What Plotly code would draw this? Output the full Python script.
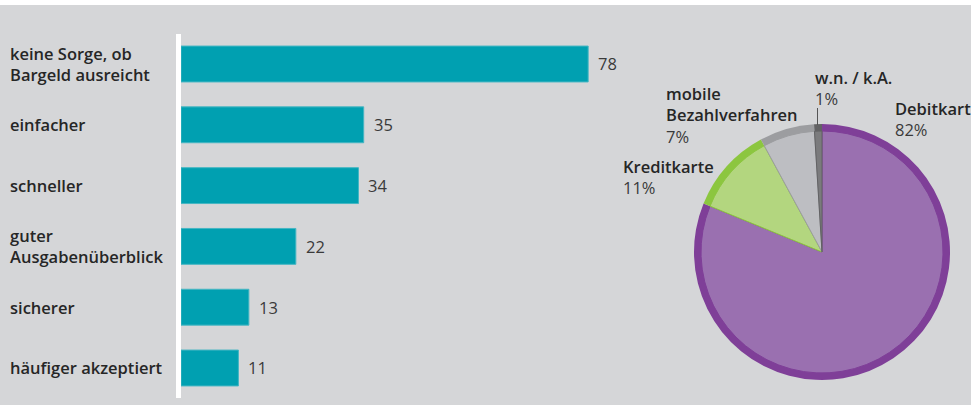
import plotly.graph_objects as go

# ---- data ----
categories = ["keine Sorge, ob<br>Bargeld ausreicht", "einfacher", "schneller",
              "guter<br>Ausgabenüberblick", "sicherer", "häufiger akzeptiert"]
bar_values = [78, 35, 34, 22, 13, 11]

pie_labels = ["Debitkarte", "Kreditkarte", "mobile<br>Bezahlverfahren", "w.n. / k.A."]
pie_values = [82, 11, 7, 1]
pie_fill = ["#9a70b0", "#b3d67f", "#bdbec2", "#7b7b7d"]
pie_border = ["#7f3f98", "#8cc63f", "#9c9da0", "#626264"]

W, H = 971, 405
BG = "#d5d6d8"
FONT = "Open Sans"
FS = 16.5

fig = go.Figure()

fig.add_trace(go.Bar(
    x=bar_values, y=categories, orientation="h",
    marker=dict(color="#00a0b1", line=dict(color="#45b6c3", width=1)),
    width=0.59, hoverinfo="skip", showlegend=False,
))

# outer ring (border colours) and inner fill
fig.add_trace(go.Pie(
    values=pie_values, labels=pie_labels, sort=False, direction="clockwise",
    marker=dict(colors=pie_border, line=dict(width=0)),
    textinfo="none", hoverinfo="skip", showlegend=False,
    domain=dict(x=[694 / W, 950 / W], y=[1 - 380 / H, 1 - 124 / H]),
))
fig.add_trace(go.Pie(
    values=pie_values, labels=pie_labels, sort=False, direction="clockwise",
    marker=dict(colors=pie_fill, line=dict(color=pie_border, width=1)),
    textinfo="none", hoverinfo="skip", showlegend=False,
    domain=dict(x=[701 / W, 943 / W], y=[1 - 373 / H, 1 - 131 / H]),
))

ann = []
for c in categories:
    ann.append(dict(x=0, xref="paper", y=c, yref="y", xanchor="left", xshift=8,
                    text=c, showarrow=False, align="left",
                    font=dict(family=FONT, size=FS, color="#262626", weight=600)))
for c, v in zip(categories, bar_values):
    ann.append(dict(x=v, xref="x", y=c, yref="y", xanchor="left", xshift=8,
                    text=str(v), showarrow=False,
                    font=dict(family=FONT, size=FS, color="#3a3a3a")))

# pie labels: (left x px, first-line centre y px)
pie_text_pos = [(893, 106), (621, 164), (664, 91), (813, 75)]
for lab, v, (px, py) in zip(pie_labels, pie_values, pie_text_pos):
    ann.append(dict(x=px / W, y=1 - (py - 11) / H, xref="paper", yref="paper",
                    xanchor="left", yanchor="top", align="left", showarrow=False,
                    text=f"<span style='font-weight:600;color:#262626'>{lab}</span><br>{v}%",
                    font=dict(family=FONT, size=FS, color="#3a3a3a")))

fig.update_layout(
    width=W, height=H, margin=dict(l=0, r=0, t=0, b=0),
    paper_bgcolor=BG, plot_bgcolor=BG,
    xaxis=dict(domain=[181 / W, 640 / W], range=[0, (640 - 181) / 5.22],
               visible=False, fixedrange=True),
    yaxis=dict(domain=[1 - 398.4 / H, 1 - 33.6 / H], autorange="reversed",
               showticklabels=False, ticks="", showgrid=False, zeroline=False,
               showline=True, linecolor="white", linewidth=5),
    annotations=ann,
    shapes=[
        dict(type="rect", xref="paper", yref="paper", x0=0, x1=1, y0=1 - 5 / H, y1=1,
             fillcolor="white", line=dict(width=0), layer="above"),
        dict(type="line", xref="paper", yref="paper", x0=817.5 / W, x1=817.5 / W,
             y0=1 - 125 / H, y1=1 - 108 / H, line=dict(color="#555", width=1)),
    ],
    bargap=0.41,
)

fig.write_html("out.html", config={"displayModeBar": False},
               post_script="document.body.style.margin='0px';document.body.style.overflow='hidden';")
